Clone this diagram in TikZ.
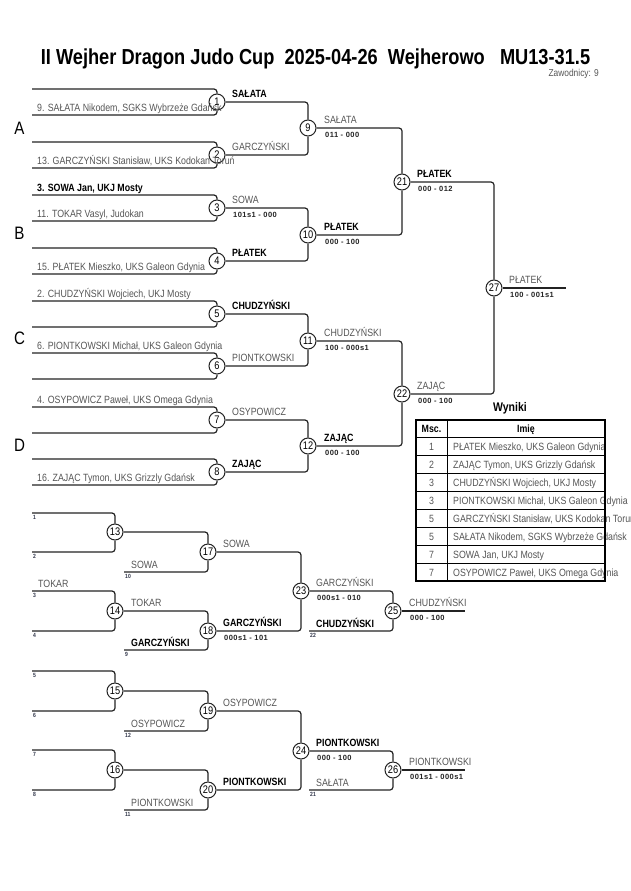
\documentclass[tikz,border=0pt]{standalone}
\usepackage{fontspec}
\setmainfont{Liberation Sans}[FakeStretch=0.84]
\newfontfamily\scorefont{Liberation Sans}[LetterSpace=6]
\usetikzlibrary{positioning,calc}

\definecolor{txtgrey}{RGB}{85,85,85}
\definecolor{lineclr}{RGB}{35,35,35}
\definecolor{seedclr}{RGB}{45,50,70}

\tikzset{
  fight/.style={circle, draw=lineclr, line width=1pt, minimum size=16pt, inner sep=0pt, font=\fontsize{11}{11}\selectfont},
  bline/.style={draw=lineclr, line width=1.2pt, rounded corners=3pt},
  entry/.style={anchor=base west, inner sep=0pt, text=txtgrey, font=\fontsize{10.5}{12}\selectfont},
  entryb/.style={entry, text=black, font=\fontsize{10.5}{12}\selectfont\bfseries},
  score/.style={anchor=base west, inner sep=0pt, text=lineclr, font=\scorefont\fontsize{7.5}{9}\selectfont\bfseries},
  seed/.style={anchor=base west, inner sep=0pt, text=seedclr, font=\fontsize{6}{6}\selectfont\bfseries},
  pool/.style={inner sep=0pt, font=\fontsize{18}{18}\selectfont},
  tbltxt/.style={anchor=base west, inner sep=0pt, text=txtgrey, font=\fontsize{10.5}{12}\selectfont},
  tblnum/.style={anchor=base, inner sep=0pt, text=txtgrey, font=\fontsize{10.5}{12}\selectfont},
  tblhead/.style={anchor=base, inner sep=0pt, font=\fontsize{10.5}{12}\selectfont\bfseries},
}

\begin{document}
\begin{tikzpicture}[x=1pt, y=-1pt]
\useasboundingbox (0,0) rectangle (630,891);

% header
\node[anchor=base, inner sep=0pt, font=\fontsize{21.7}{22}\selectfont\bfseries] (title) at (315.5,64)
  {II Wejher Dragon Judo Cup\ \ 2025-04-26\ \ Wejherowo\ \ \ MU13-31.5};
\node[anchor=base east, inner sep=0pt, text=txtgrey, font=\fontsize{10}{10}\selectfont] (zaw) at (599,77) {Zawodnicy: 9};

% pools
\node[pool] (pa) at (19.5,128.5) {A};
\node[pool] (pb) at (19.5,233.5) {B};
\node[pool] (pc) at (19.5,338.5) {C};
\node[pool] (pd) at (19.5,445) {D};

% ---- main bracket, round 1
\node[fight] (m1) at (217,102) {1};
\node[fight] (m2) at (217,155) {2};
\node[fight] (m3) at (217,208) {3};
\node[fight] (m4) at (217,261) {4};
\node[fight] (m5) at (217,314) {5};
\node[fight] (m6) at (217,366) {6};
\node[fight] (m7) at (217,420) {7};
\node[fight] (m8) at (217,472) {8};

\coordinate (e1a) at (32,89);   \coordinate (e1b) at (32,115);
\coordinate (e2a) at (32,142);  \coordinate (e2b) at (32,168);
\coordinate (e3a) at (32,195);  \coordinate (e3b) at (32,221);
\coordinate (e4a) at (32,248);  \coordinate (e4b) at (32,274);
\coordinate (e5a) at (32,301);  \coordinate (e5b) at (32,327);
\coordinate (e6a) at (32,353);  \coordinate (e6b) at (32,379);
\coordinate (e7a) at (32,407);  \coordinate (e7b) at (32,433);
\coordinate (e8a) at (32,459);  \coordinate (e8b) at (32,485);

\draw[bline] (e1a) -| (m1);  \draw[bline] (e1b) -| (m1);
\draw[bline] (e2a) -| (m2);  \draw[bline] (e2b) -| (m2);
\draw[bline] (e3a) -| (m3);  \draw[bline] (e3b) -| (m3);
\draw[bline] (e4a) -| (m4);  \draw[bline] (e4b) -| (m4);
\draw[bline] (e5a) -| (m5);  \draw[bline] (e5b) -| (m5);
\draw[bline] (e6a) -| (m6);  \draw[bline] (e6b) -| (m6);
\draw[bline] (e7a) -| (m7);  \draw[bline] (e7b) -| (m7);
\draw[bline] (e8a) -| (m8);  \draw[bline] (e8b) -| (m8);

\node[entry] (n1b) at (37,111) {9. SAŁATA Nikodem, SGKS Wybrzeże Gdańsk};
\node[entry] (n2b) at (37,164) {13. GARCZYŃSKI Stanisław, UKS Kodokan Toruń};
\node[entryb] (n3a) at (37,191) {3. SOWA Jan, UKJ Mosty};
\node[entry] (n3b) at (37,217) {11. TOKAR Vasyl, Judokan};
\node[entry] (n4b) at (37,270) {15. PŁATEK Mieszko, UKS Galeon Gdynia};
\node[entry] (n5a) at (37,297) {2. CHUDZYŃSKI Wojciech, UKJ Mosty};
\node[entry] (n6a) at (37,349) {6. PIONTKOWSKI Michał, UKS Galeon Gdynia};
\node[entry] (n7a) at (37,403) {4. OSYPOWICZ Paweł, UKS Omega Gdynia};
\node[entry] (n8b) at (37,481) {16. ZAJĄC Tymon, UKS Grizzly Gdańsk};

% round 2
\node[fight] (m9) at (308,128) {9};
\node[fight] (m10) at (308,235) {10};
\node[fight] (m11) at (308,341) {11};
\node[fight] (m12) at (308,446) {12};

\draw[bline] (m1) -| (m9);   \draw[bline] (m2) -| (m9);
\draw[bline] (m3) -| (m10);  \draw[bline] (m4) -| (m10);
\draw[bline] (m5) -| (m11);  \draw[bline] (m6) -| (m11);
\draw[bline] (m7) -| (m12);  \draw[bline] (m8) -| (m12);

\node[entryb] (w1) at ($(m1)+(15,-4.5)$) {SAŁATA};
\node[entry] (w2) at ($(m2)+(15,-4.5)$) {GARCZYŃSKI};
\node[entry] (w3) at ($(m3)+(15,-4.5)$) {SOWA};
\node[score] (s3) at ($(m3)+(16,9.5)$) {101s1 - 000};
\node[entryb] (w4) at ($(m4)+(15,-4.5)$) {PŁATEK};
\node[entryb] (w5) at ($(m5)+(15,-4.5)$) {CHUDZYŃSKI};
\node[entry] (w6) at ($(m6)+(15,-4.5)$) {PIONTKOWSKI};
\node[entry] (w7) at ($(m7)+(15,-4.5)$) {OSYPOWICZ};
\node[entryb] (w8) at ($(m8)+(15,-4.5)$) {ZAJĄC};

% round 3 + final
\node[fight] (m21) at (402,182) {21};
\node[fight] (m22) at (402,394) {22};
\node[fight] (m27) at (494,288) {27};
\coordinate (f27) at (566,288);

\draw[bline] (m9) -| (m21);   \draw[bline] (m10) -| (m21);
\draw[bline] (m11) -| (m22);  \draw[bline] (m12) -| (m22);
\draw[bline] (m21) -| (m27);  \draw[bline] (m22) -| (m27);
\draw[bline] (m27) -- (f27);

\node[entry] (w9) at ($(m9)+(16,-4.5)$) {SAŁATA};
\node[score] (s9) at ($(m9)+(17,9.5)$) {011 - 000};
\node[entryb] (w10) at ($(m10)+(16,-4.5)$) {PŁATEK};
\node[score] (s10) at ($(m10)+(17,9.5)$) {000 - 100};
\node[entry] (w11) at ($(m11)+(16,-4.5)$) {CHUDZYŃSKI};
\node[score] (s11) at ($(m11)+(17,9.5)$) {100 - 000s1};
\node[entryb] (w12) at ($(m12)+(16,-4.5)$) {ZAJĄC};
\node[score] (s12) at ($(m12)+(17,9.5)$) {000 - 100};
\node[entryb] (w21) at ($(m21)+(15,-4.5)$) {PŁATEK};
\node[score] (s21) at ($(m21)+(16,9.5)$) {000 - 012};
\node[entry] (w22) at ($(m22)+(15,-4.5)$) {ZAJĄC};
\node[score] (s22) at ($(m22)+(16,9.5)$) {000 - 100};
\node[entry] (w27) at ($(m27)+(15,-4.5)$) {PŁATEK};
\node[score] (s27) at ($(m27)+(16,9.5)$) {100 - 001s1};

% ---- results table
\node[anchor=base, inner sep=0pt, font=\fontsize{12.5}{13}\selectfont\bfseries] (wyn) at (510,411) {Wyniki};
\node[tblhead] (hmsc) at (431.5,432) {Msc.};
\node[tblhead] (himie) at (526,432) {Imię};
\node[tblnum] (p1) at (431.5,450) {1};  \node[tbltxt] (r1) at (453,450) {PŁATEK Mieszko, UKS Galeon Gdynia};
\node[tblnum] (p2) at (431.5,468) {2};  \node[tbltxt] (r2) at (453,468) {ZAJĄC Tymon, UKS Grizzly Gdańsk};
\node[tblnum] (p3) at (431.5,486) {3};  \node[tbltxt] (r3) at (453,486) {CHUDZYŃSKI Wojciech, UKJ Mosty};
\node[tblnum] (p4) at (431.5,504) {3};  \node[tbltxt] (r4) at (453,504) {PIONTKOWSKI Michał, UKS Galeon Gdynia};
\node[tblnum] (p5) at (431.5,522) {5};  \node[tbltxt] (r5) at (453,522) {GARCZYŃSKI Stanisław, UKS Kodokan Toruń};
\node[tblnum] (p6) at (431.5,540) {5};  \node[tbltxt] (r6) at (453,540) {SAŁATA Nikodem, SGKS Wybrzeże Gdańsk};
\node[tblnum] (p7) at (431.5,558) {7};  \node[tbltxt] (r7) at (453,558) {SOWA Jan, UKJ Mosty};
\node[tblnum] (p8) at (431.5,576) {7};  \node[tbltxt] (r8) at (453,576) {OSYPOWICZ Paweł, UKS Omega Gdynia};
\draw[line width=1pt] (416,437) -- (605,437) (416,455) -- (605,455) (416,473) -- (605,473)
  (416,491) -- (605,491) (416,509) -- (605,509) (416,527) -- (605,527)
  (416,545) -- (605,545) (416,563) -- (605,563) (447,420) -- (447,581);
\draw[line width=2pt] (416,420) rectangle (605,581);

% ---- repechage, upper
\node[fight] (r13) at (115,532) {13};
\node[fight] (r14) at (115,611) {14};
\node[fight] (r17) at (208,552) {17};
\node[fight] (r18) at (208,631) {18};
\node[fight] (r23) at (301,591) {23};
\node[fight] (r25) at (393,611) {25};

\coordinate (q1) at (32,513);   \coordinate (q2) at (32,552);
\coordinate (q3) at (32,591);   \coordinate (q4) at (32,631);
\coordinate (q10) at (124,572); \coordinate (q9) at (124,650);
\coordinate (q22) at (309,631); \coordinate (f25) at (465,611);

\draw[bline] (q1) -| (r13);  \draw[bline] (q2) -| (r13);
\draw[bline] (q3) -| (r14);  \draw[bline] (q4) -| (r14);
\draw[bline] (r13) -| (r17); \draw[bline] (q10) -| (r17);
\draw[bline] (r14) -| (r18); \draw[bline] (q9) -| (r18);
\draw[bline] (r17) -| (r23); \draw[bline] (r18) -| (r23);
\draw[bline] (r23) -| (r25); \draw[bline] (q22) -| (r25);
\draw[bline] (r25) -- (f25);

\node[seed] (k1) at (33,519) {1};
\node[seed] (k2) at (33,558) {2};
\node[seed] (k3) at (33,597) {3};
\node[seed] (k4) at (33,637) {4};
\node[seed] (k10) at (125,578) {10};
\node[seed] (k9) at (125,656) {9};
\node[seed] (k22) at (310,637) {22};
\node[entry] (t3) at (38,587) {TOKAR};
\node[entry] (t10) at (131,568) {SOWA};
\node[entryb] (t9) at (131,646) {GARCZYŃSKI};
\node[entryb] (t22) at (316,627) {CHUDZYŃSKI};
\node[entry] (w14) at ($(r14)+(16,-4.5)$) {TOKAR};
\node[entry] (w17) at ($(r17)+(15,-4.5)$) {SOWA};
\node[entryb] (w18) at ($(r18)+(15,-4.5)$) {GARCZYŃSKI};
\node[score] (s18) at ($(r18)+(16,9.5)$) {000s1 - 101};
\node[entry] (w23) at ($(r23)+(15,-4.5)$) {GARCZYŃSKI};
\node[score] (s23) at ($(r23)+(16,9.5)$) {000s1 - 010};
\node[entry] (w25) at ($(r25)+(16,-4.5)$) {CHUDZYŃSKI};
\node[score] (s25) at ($(r25)+(17,9.5)$) {000 - 100};

% ---- repechage, lower
\node[fight] (r15) at (115,691) {15};
\node[fight] (r16) at (115,770) {16};
\node[fight] (r19) at (208,711) {19};
\node[fight] (r20) at (208,790) {20};
\node[fight] (r24) at (301,751) {24};
\node[fight] (r26) at (393,770) {26};

\coordinate (q5) at (32,671);   \coordinate (q6) at (32,711);
\coordinate (q7) at (32,750);   \coordinate (q8) at (32,790);
\coordinate (q12) at (124,731); \coordinate (q11) at (124,810);
\coordinate (q21) at (309,790); \coordinate (f26) at (465,770);

\draw[bline] (q5) -| (r15);  \draw[bline] (q6) -| (r15);
\draw[bline] (q7) -| (r16);  \draw[bline] (q8) -| (r16);
\draw[bline] (r15) -| (r19); \draw[bline] (q12) -| (r19);
\draw[bline] (r16) -| (r20); \draw[bline] (q11) -| (r20);
\draw[bline] (r19) -| (r24); \draw[bline] (r20) -| (r24);
\draw[bline] (r24) -| (r26); \draw[bline] (q21) -| (r26);
\draw[bline] (r26) -- (f26);

\node[seed] (k5) at (33,677) {5};
\node[seed] (k6) at (33,717) {6};
\node[seed] (k7) at (33,756) {7};
\node[seed] (k8) at (33,796) {8};
\node[seed] (k12) at (125,737) {12};
\node[seed] (k11) at (125,816) {11};
\node[seed] (k21) at (310,796) {21};
\node[entry] (t12) at (131,727) {OSYPOWICZ};
\node[entry] (t11) at (131,806) {PIONTKOWSKI};
\node[entry] (t21) at (316,786) {SAŁATA};
\node[entry] (w19) at ($(r19)+(15,-4.5)$) {OSYPOWICZ};
\node[entryb] (w20) at ($(r20)+(15,-4.5)$) {PIONTKOWSKI};
\node[entryb] (w24) at ($(r24)+(15,-4.5)$) {PIONTKOWSKI};
\node[score] (s24) at ($(r24)+(16,9.5)$) {000 - 100};
\node[entry] (w26) at ($(r26)+(16,-4.5)$) {PIONTKOWSKI};
\node[score] (s26) at ($(r26)+(17,9.5)$) {001s1 - 000s1};
\end{tikzpicture}
\end{document}
